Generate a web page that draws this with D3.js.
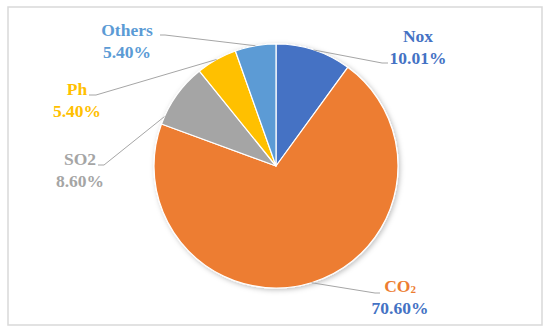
<!DOCTYPE html>
<html>
<head>
<meta charset="utf-8">
<title>Emission share pie</title>
<script src="https://d3js.org/d3.v7.min.js"></script>
<style>
  body { margin: 0; background: #fff; }
  .lbl { font-family: "Liberation Serif", "Times New Roman", serif; font-weight: bold; font-size: 17.5px; text-anchor: middle; }
  .leader { fill: none; stroke: #a6a6a6; stroke-width: 1; }
</style>
</head>
<body>
<script>
// data
var categories = ["Nox", "CO2", "SO2", "Ph", "Others"];
var shares = [10.01, 70.60, 8.60, 5.40, 5.40];
var shareLabels = ["10.01%", "70.60%", "8.60%", "5.40%", "5.40%"];
var sliceColors = ["#4472C4", "#ED7D31", "#A5A5A5", "#FFC000", "#5B9BD5"];

// label layout: centre x, first baseline, where the leader meets the label, and
// how far along the slice the leader touches the rim
var labelPos = [
  {x: 418, y: 42, lx: 388, ly: 63, fx: 382, f: 0.5, nameColor: "#4472C4", valColor: "#4472C4"},
  {x: 400, y: 292, lx: 380, ly: 293, fx: 375, f: 0.5, nameColor: "#ED7D31", valColor: "#4472C4"},
  {x: 80, y: 165, lx: 98, ly: 165, fx: 104, f: 0.12, nameColor: "#A5A5A5", valColor: "#A5A5A5"},
  {x: 77, y: 95, lx: 89, ly: 95, fx: 96, f: 0.5, nameColor: "#FFC000", valColor: "#FFC000"},
  {x: 127, y: 36, lx: 160, ly: 35, fx: 165, f: 0.5, nameColor: "#5B9BD5", valColor: "#5B9BD5"}
];

var width = 550, height = 336;
var cx = 276, cy = 166, r = 122;

var svg = d3.select("body").append("svg")
  .attr("width", width)
  .attr("height", height);

var defs = svg.append("defs");
var f = defs.append("filter").attr("id", "shadow")
  .attr("x", "-20%").attr("y", "-20%").attr("width", "140%").attr("height", "140%");
f.append("feDropShadow")
  .attr("dx", 1.5).attr("dy", 1.5).attr("stdDeviation", 2.5)
  .attr("flood-color", "#000").attr("flood-opacity", 0.25);

// outer frame
svg.append("rect")
  .attr("x", 8).attr("y", 7)
  .attr("width", 534).attr("height", 318)
  .attr("fill", "#fff")
  .attr("stroke", "#d9d9d9")
  .attr("stroke-width", 1.5);

var pie = d3.pie().sort(null).value(function(d){ return d; });
var arcs = pie(shares);
var arc = d3.arc().innerRadius(0).outerRadius(r);

var g = svg.append("g")
  .attr("transform", "translate(" + cx + "," + cy + ")");

g.append("g").attr("filter", "url(#shadow)")
  .selectAll("path")
  .data(arcs)
  .enter()
  .append("path")
  .attr("d", arc)
  .attr("fill", function(d, i){ return sliceColors[i]; })
  .attr("stroke", "#fff")
  .attr("stroke-width", 1.2)
  .attr("stroke-linejoin", "round");

// leader lines
arcs.forEach(function(d, i){
  var p = labelPos[i];
  var a = d.startAngle + p.f * (d.endAngle - d.startAngle);
  var rx = cx + r * Math.sin(a);
  var ry = cy - r * Math.cos(a);
  svg.append("path")
    .attr("class", "leader")
    .attr("d", "M" + rx + "," + ry + "L" + p.fx + "," + p.ly + "L" + p.lx + "," + p.ly);
});

// labels
categories.forEach(function(c, i){
  var p = labelPos[i];
  var t = svg.append("text").attr("class", "lbl")
    .attr("x", p.x).attr("y", p.y)
    .attr("fill", p.nameColor);
  if (c === "CO2") {
    t.append("tspan").text("CO");
    t.append("tspan").attr("font-size", "11px").attr("dy", 1).text("2");
  } else {
    t.text(c);
  }
  svg.append("text").attr("class", "lbl")
    .attr("x", p.x).attr("y", p.y + 21.5)
    .attr("fill", p.valColor)
    .text(shareLabels[i]);
});
</script>
</body>
</html>
